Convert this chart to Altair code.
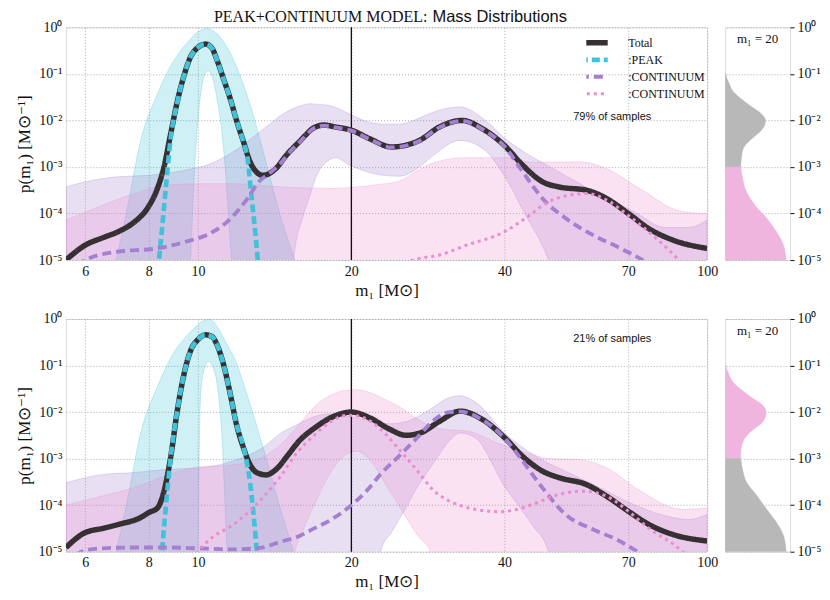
import altair as alt
import pandas as pd

# ------------------------------------------------------------------
# Values (log10 of p(m1) in Msun^-1)
# ------------------------------------------------------------------
X_TICKS = [6, 8, 10, 20, 40, 70, 100]
Y_TICKS = [1e-5, 1e-4, 1e-3, 1e-2, 1e-1, 1.0]
VLINE_M = [20]

# ---------------- top panel (79% of samples) ----------------
TOP_TOTAL_M = [5.5, 6.0, 6.5, 7.0, 7.5, 7.95, 8.32, 8.57, 8.83, 9.1, 9.38, 9.66, 10.0, 10.35, 10.65,
               10.9, 11.22, 11.57, 11.9, 12.28, 12.65, 13.0, 13.4, 14.2, 14.9, 15.8, 17.0, 17.7, 18.6, 20.0,
               21.7, 24.0, 27.2, 29.8, 33.0, 36.2, 40.0, 43.4, 47.5, 51.2, 58.0, 63.5, 70.0, 76.7, 85.6, 100.0]
TOP_TOTAL_LOG = [-5.0, -4.68, -4.52, -4.38, -4.18, -3.89, -3.46, -3.0, -2.3, -1.6, -1.04, -0.64, -0.43, -0.36, -0.45,
                 -0.71, -1.11, -1.54, -2.0, -2.46, -2.89, -3.1, -3.18, -3.04, -2.75, -2.46, -2.14, -2.1, -2.14, -2.21,
                 -2.39, -2.57, -2.43, -2.14, -2.0, -2.18, -2.54, -2.96, -3.32, -3.43, -3.5, -3.68, -4.0, -4.32, -4.57, -4.75]

TOP_PEAK_M = [8.25, 8.38, 8.5, 8.65, 8.83, 9.1, 9.38, 9.66, 10.0, 10.35, 10.65, 10.9, 11.22, 11.57, 11.9,
              12.28, 12.5, 12.75, 12.95, 13.1, 13.3]
TOP_PEAK_LOG = [-6.0, -5.0, -4.3, -3.4, -2.4, -1.62, -1.04, -0.64, -0.43, -0.36, -0.45, -0.71, -1.11, -1.54, -2.0,
                -2.47, -2.8, -3.7, -4.4, -5.0, -6.0]

TOP_CONT1_M = [5.5, 6.0, 6.95, 8.3, 9.5, 10.4, 11.4, 12.5, 13.2, 13.8, 14.5, 15.3, 15.8, 17.0, 17.7,
               18.6, 20.0, 21.7, 24.0, 27.2, 29.8, 33.0, 36.2, 40.0, 43.4, 47.5, 52.7, 59.6, 66.5, 74.7, 85.0]
TOP_CONT1_LOG = [-5.3, -5.0, -4.82, -4.75, -4.6, -4.46, -4.18, -3.68, -3.3, -3.14, -2.93, -2.62, -2.47, -2.15, -2.11,
                 -2.15, -2.22, -2.4, -2.58, -2.44, -2.15, -2.01, -2.19, -2.56, -3.1, -3.68, -4.1, -4.46, -4.71, -5.0, -5.4]

TOP_CONT2_M = [24.0, 26.4, 29.8, 33.7, 40.0, 44.0, 48.8, 54.0, 58.0, 63.5, 70.0, 76.7, 88.0, 95.0]
TOP_CONT2_LOG = [-5.2, -5.0, -4.89, -4.68, -4.39, -4.1, -3.75, -3.6, -3.57, -3.71, -4.04, -4.39, -5.0, -5.4]

TOP_PEAK_BAND_M = [6.9, 7.1, 7.3, 7.7, 8.3, 9.0, 9.4, 9.66, 9.85, 10.05, 10.25, 10.45, 10.65, 10.9, 11.2,
                   11.6, 12.0, 12.6, 13.6, 14.5, 15.5]
TOP_PEAK_BAND_HI = [-5.0, -4.4, -3.75, -2.46, -1.46, -0.68, -0.4, -0.25, -0.15, -0.08, -0.04, -0.03, -0.06, -0.14, -0.3,
                    -0.58, -0.95, -1.6, -2.9, -4.04, -5.0]
TOP_PEAK_BAND_LO = [-7, -7, -7, -7, -7, -7, -7, -5.0, -3.0, -1.7, -1.1, -0.93, -1.05, -1.55, -2.5,
                    -4.8, -7, -7, -7, -7, -7]

TOP_CONT1_BAND_M = [5.5, 6.0, 6.95, 8.0, 9.4, 10.4, 11.7, 13.2, 14.9, 15.4, 16.1, 16.6, 17.0, 18.1, 18.6,
                    20.0, 21.4, 23.1, 24.9, 27.2, 29.0, 32.7, 36.5, 40.0, 44.0, 48.8, 55.0, 61.7, 71.6, 82.8,
                    92.0, 100.0]
TOP_CONT1_BAND_HI = [-3.43, -3.32, -3.21, -3.18, -3.07, -2.96, -2.68, -2.25, -1.82, -1.74, -1.67, -1.64, -1.65, -1.68, -1.72,
                     -1.88, -2.02, -2.08, -2.08, -1.95, -1.82, -1.71, -1.98, -2.38, -2.7, -2.98, -3.3, -3.6, -3.95, -4.3,
                     -4.3, -4.14]
TOP_CONT1_BAND_LO = [-7, -7, -7, -7, -7, -7, -7, -7, -7, -5.0, -4.04, -3.6, -3.25, -2.85, -2.8,
                     -2.98, -3.1, -3.18, -3.2, -3.0, -2.75, -2.43, -2.63, -3.2, -4.04, -5.0, -7, -7, -7, -7,
                     -7, -7]

TOP_CONT2_BAND_M = [5.5, 6.5, 7.5, 8.7, 10.1, 11.7, 14.7, 18.4, 20.0, 22.5, 24.9, 27.2, 29.0, 33.5, 40.0,
                    45.5, 56.2, 63.5, 73.6, 89.5, 100.0]
TOP_CONT2_BAND_HI = [-4.14, -3.82, -3.57, -3.39, -3.36, -3.36, -3.43, -3.46, -3.44, -3.38, -3.3, -3.05, -2.91, -2.8, -2.8,
                     -2.9, -2.89, -3.04, -3.46, -3.96, -4.0]
TOP_CONT2_BAND_LO = [-7] * 21

# ---------------- bottom panel (21% of samples) ----------------
BOT_TOTAL_M = [5.5, 6.0, 6.5, 7.0, 7.7, 8.0, 8.32, 8.57, 8.83, 9.1, 9.38, 9.66, 10.0, 10.35, 10.65,
               10.89, 11.22, 11.57, 11.9, 12.28, 12.65, 13.04, 13.6, 14.27, 15.0, 15.8, 17.0, 18.4, 20.0, 21.7,
               23.8, 25.6, 27.3, 29.8, 32.7, 36.2, 40.0, 43.4, 47.5, 51.2, 58.0, 63.5, 70.0, 76.7, 85.6, 100.0]
BOT_TOTAL_LOG = [-4.91, -4.59, -4.5, -4.41, -4.27, -4.16, -4.06, -3.7, -2.98, -1.98, -1.19, -0.69, -0.44, -0.34, -0.38,
                 -0.55, -0.98, -1.62, -2.27, -2.77, -3.13, -3.3, -3.35, -3.22, -2.93, -2.62, -2.33, -2.1, -2.0, -2.12,
                 -2.37, -2.5, -2.45, -2.2, -1.98, -2.16, -2.55, -2.95, -3.27, -3.41, -3.56, -3.81, -4.13, -4.41, -4.63, -4.77]

BOT_PEAK_M = [8.4, 8.5, 8.65, 8.83, 9.1, 9.38, 9.66, 10.0, 10.35, 10.65, 10.89, 11.22, 11.57, 11.9, 12.28,
              12.5, 12.66, 12.85, 13.05, 13.3]
BOT_PEAK_LOG = [-6.0, -5.0, -4.0, -3.0, -1.98, -1.19, -0.69, -0.44, -0.34, -0.38, -0.55, -0.98, -1.62, -2.27, -2.75,
                -3.15, -3.54, -4.2, -5.0, -6.0]

BOT_CONT1_M = [5.5, 5.9, 6.4, 7.5, 8.7, 10.1, 11.7, 13.2, 14.5, 15.9, 16.9, 18.2, 20.0, 21.4, 22.9,
               24.9, 27.0, 29.0, 31.1, 32.7, 36.2, 40.0, 43.4, 47.5, 52.7, 59.6, 66.5, 73.0, 85.0]
BOT_CONT1_LOG = [-5.3, -5.0, -4.93, -4.91, -4.91, -4.93, -4.95, -4.92, -4.79, -4.65, -4.5, -4.32, -4.0, -3.7, -3.32,
                 -2.93, -2.54, -2.18, -2.0, -1.99, -2.17, -2.56, -3.05, -3.63, -4.2, -4.52, -4.74, -5.0, -5.5]

BOT_CONT2_M = [9.6, 10.0, 10.7, 11.57, 12.47, 13.45, 14.5, 15.6, 16.9, 18.2, 19.6, 20.5, 21.7, 23.0, 24.9,
               27.0, 29.0, 31.0, 33.5, 36.5, 39.0, 42.0, 45.5, 51.2, 57.2, 63.5, 70.0, 76.7, 89.5, 95.0]
BOT_CONT2_LOG = [-5.3, -5.0, -4.68, -4.46, -4.18, -3.82, -3.39, -2.89, -2.5, -2.21, -2.07, -2.08, -2.18, -2.4, -2.82,
                 -3.27, -3.68, -3.9, -4.04, -4.12, -4.14, -4.1, -3.98, -3.77, -3.7, -3.81, -4.13, -4.49, -5.0, -5.3]

BOT_PEAK_BAND_M = [6.9, 7.1, 7.3, 7.7, 8.3, 9.0, 9.4, 9.7, 10.0, 10.05, 10.12, 10.3, 10.5, 10.7, 10.9,
                   11.15, 11.4, 11.7, 12.6, 13.6, 14.5, 15.4]
BOT_PEAK_BAND_HI = [-5.0, -4.4, -3.77, -2.48, -1.48, -0.69, -0.42, -0.26, -0.12, -0.1, -0.07, -0.03, -0.01, -0.05, -0.16,
                    -0.35, -0.55, -0.77, -1.77, -2.98, -4.06, -5.0]
BOT_PEAK_BAND_LO = [-7, -7, -7, -7, -7, -7, -7, -7, -5.0, -3.0, -1.6, -1.05, -0.91, -1.05, -1.4,
                    -2.6, -5.0, -7, -7, -7, -7, -7]

BOT_CONT1_BAND_M = [5.5, 6.5, 7.5, 8.7, 10.1, 11.7, 13.45, 14.5, 15.8, 16.9, 18.2, 20.0, 21.5, 22.8, 24.0,
                    25.3, 27.0, 29.0, 31.0, 32.7, 35.0, 40.0, 45.5, 48.8, 52.7, 61.7, 71.6, 82.8, 92.0, 100.0]
BOT_CONT1_BAND_HI = [-3.52, -3.34, -3.3, -3.23, -3.2, -3.05, -2.75, -2.46, -2.25, -2.1, -2.04, -2.1, -2.18, -2.23, -2.25,
                     -2.22, -2.1, -1.89, -1.7, -1.65, -1.78, -2.45, -2.91, -3.1, -3.27, -3.63, -3.98, -4.23, -4.31, -4.2]
BOT_CONT1_BAND_LO = [-7, -7, -7, -7, -7, -7, -7, -7, -7, -7, -7, -7, -7, -5.0, -4.58,
                     -4.16, -3.6, -3.1, -2.65, -2.45, -2.55, -3.6, -4.45, -5.0, -7, -7, -7, -7, -7, -7]

BOT_CONT2_BAND_M = [5.5, 6.5, 7.5, 8.7, 10.0, 11.57, 13.45, 14.5, 15.5, 16.2, 16.9, 18.2, 19.6, 20.5, 22.0,
                    23.5, 24.9, 27.0, 28.6, 31.0, 33.5, 39.0, 45.0, 49.0, 56.0, 63.5, 73.6, 89.5, 100.0]
BOT_CONT2_BAND_HI = [-4.0, -3.8, -3.62, -3.35, -3.18, -3.14, -2.96, -2.71, -2.37, -2.12, -1.89, -1.64, -1.53, -1.52, -1.6,
                     -1.75, -1.89, -2.15, -2.3, -2.38, -2.4, -2.68, -2.9, -3.0, -3.02, -3.2, -3.68, -4.09, -4.06]
BOT_CONT2_BAND_LO = [-7, -7, -7, -7, -7, -7, -7, -7, -5.0, -4.45, -4.0, -3.3, -2.9, -2.84, -3.1,
                     -3.6, -4.04, -4.65, -5.0, -7, -7, -7, -7, -7, -7, -7, -7, -7, -7]

# ---------------- side panels: density of p(m1 = 20) ----------------
SIDE_TOP_LOGP = [-0.97, -1.07, -1.2, -1.39, -1.55, -1.68, -1.86, -2.0, -2.1, -2.21, -2.43, -2.6, -2.82, -3.0,
                 -3.25, -3.54, -3.82, -4.1, -4.39, -4.68, -5.0]
SIDE_TOP_W = [0.0, 0.02, 0.06, 0.13, 0.26, 0.38, 0.56, 0.62, 0.61, 0.56, 0.38, 0.28, 0.25, 0.24,
              0.27, 0.33, 0.46, 0.64, 0.79, 0.9, 0.94]
SIDE_BOT_LOGP = [-0.97, -1.05, -1.2, -1.37, -1.52, -1.66, -1.87, -2.01, -2.1, -2.19, -2.44, -2.62, -2.87, -3.0,
                 -3.25, -3.51, -3.8, -4.09, -4.37, -4.66, -5.0]
SIDE_BOT_W = [0.0, 0.02, 0.06, 0.13, 0.25, 0.38, 0.59, 0.63, 0.62, 0.59, 0.38, 0.28, 0.24, 0.24,
              0.27, 0.33, 0.49, 0.64, 0.79, 0.9, 0.94]
SIDE_SPLIT_LOGP = -3.0

SERIES = ["total", "peak", "cont1", "cont2"]
SERIES_COLORS = ["#363033", "#41c2d8", "#a381d0", "#ea8ccf"]
SERIES_DASH = [[1, 0], [8, 4], [9, 5], [3, 4]]
SERIES_WIDTH = [5.5, 3, 3, 3.3]
GREY = "#b8b8b8"
PINK_FILL = "#efb5df"

TITLE_LEFT = ["PEAK+CONTINUUM MODEL:"]
TITLE_RIGHT = ["Mass Distributions"]
TOP_NOTE = ["79% of samples"]
BOT_NOTE = ["21% of samples"]
SIDE_LABEL = ["m\u2081 = 20"]

SERIF = "Liberation Serif"
SANS = "Liberation Sans"

W, H = 642, 233
SW = 65

# ------------------------------------------------------------------
def curve(m, logp, s):
    return pd.DataFrame({"m": m, "p": [10.0 ** v for v in logp], "series": s})


def band(m, lo, hi):
    return pd.DataFrame({"m": m, "lo": [10.0 ** v for v in lo], "hi": [10.0 ** v for v in hi]})


X_SCALE = alt.Scale(type="log", domain=[5.5, 100], nice=False)
Y_SCALE = alt.Scale(type="log", domain=[1e-5, 1], nice=False)
Y_LABEL = "'10' + ['\u2070','\u207b\u00b9','\u207b\u00b2','\u207b\u00b3','\u207b\u2074','\u207b\u2075'][round(-log(datum.value)/LN10)]"

X_AXIS = alt.Axis(values=X_TICKS, title="m\u2081 [M\u2299]", labelExpr="datum.value + ''",
                  labelFont=SERIF, labelFontSize=14, labelColor="#111", titleFont=SERIF, titleFontSize=17,
                  titleFontWeight="normal", titleColor="#111", grid=True, gridDash=[1, 2], gridColor="#aaaaaa",
                  ticks=False, labelPadding=4, titleBaseline="middle", titleY=30, domain=False, labelFlush=False)
Y_AXIS = alt.Axis(values=Y_TICKS, title="p(m\u2081) [M\u2299\u207b\u00b9]", labelExpr=Y_LABEL,
                  labelFont=SERIF, labelFontSize=14, labelColor="#111", titleFont=SERIF, titleFontSize=17,
                  titleFontWeight="normal", titleColor="#111", grid=True, gridDash=[1, 2], gridColor="#aaaaaa",
                  ticks=False, labelPadding=4, titlePadding=5, domain=False, labelFlush=False,
                  titleAnchor="middle", titleAlign="center", titleAngle=270, titleBaseline="bottom")
SIDE_AXIS = alt.Axis(values=Y_TICKS, title=None, orient="right", labelExpr=Y_LABEL,
                     labelFont=SERIF, labelFontSize=14, labelColor="#111", grid=True, gridDash=[1, 2],
                     gridColor="#aaaaaa", ticks=True, tickSize=4, tickColor="#111", labelPadding=3,
                     domain=False, labelFlush=False)

LEGEND = alt.Legend(title=None, orient="none", legendX=521, legendY=7, symbolType="M-3.1,0H3.1",
                    symbolSize=81, labelFont=SERIF, labelFontSize=12, labelColor="#111", labelOffset=27,
                    rowPadding=0, clipHeight=17,
                    labelExpr="datum.value == 'total' ? 'Total' : datum.value == 'peak' ? ':PEAK' : ':CONTINUUM'")


def band_layer(df, color):
    return alt.Chart(df).mark_area(color=color, fillOpacity=0.25, stroke=color, strokeOpacity=0.35,
                                   strokeWidth=0.8, clip=True, interpolate="monotone").encode(
        x=alt.X("m:Q", scale=X_SCALE, axis=X_AXIS),
        y=alt.Y("lo:Q", scale=Y_SCALE, axis=Y_AXIS),
        y2="hi:Q",
    )


def line_layer(df, show_legend):
    leg = LEGEND if show_legend else None
    return alt.Chart(df).mark_line(clip=True, interpolate="monotone", strokeCap="butt").encode(
        x=alt.X("m:Q", scale=X_SCALE, axis=X_AXIS),
        y=alt.Y("p:Q", scale=Y_SCALE, axis=Y_AXIS),
        color=alt.Color("series:N", scale=alt.Scale(domain=SERIES, range=SERIES_COLORS), legend=leg),
        strokeDash=alt.StrokeDash("series:N", scale=alt.Scale(domain=SERIES, range=SERIES_DASH), legend=leg),
        strokeWidth=alt.StrokeWidth("series:N", scale=alt.Scale(domain=SERIES, range=SERIES_WIDTH), legend=leg),
    )


def text_layer(values, xpx, ypx, font, size, align="center", style="normal"):
    return alt.Chart(pd.DataFrame({"t": values})).mark_text(
        font=font, fontSize=size, align=align, baseline="middle", color="#111", fontStyle=style
    ).encode(text="t:N", x=alt.value(xpx), y=alt.value(ypx))


def main_panel(bands, curves, note, ypos_note, show_legend, title):
    vline = alt.Chart(pd.DataFrame({"m": VLINE_M})).mark_rule(color="black", strokeWidth=1.2).encode(
        x=alt.X("m:Q", scale=X_SCALE, axis=X_AXIS))
    layers = [band_layer(bands[0], SERIES_COLORS[1]),
              band_layer(bands[1], SERIES_COLORS[2]),
              band_layer(bands[2], SERIES_COLORS[3]),
              vline]
    layers += [line_layer(c, show_legend) for c in curves]
    layers.append(text_layer(note, 547, ypos_note, SANS, 11))
    if title:
        layers.append(text_layer(TITLE_LEFT, 362, -10, SERIF, 16, align="right"))
        layers.append(text_layer(TITLE_RIGHT, 367, -10, SANS, 16.5, align="left"))
    return alt.layer(*layers).properties(width=W, height=H)


def side_panel(logp, widths, upper_color, lower_color):
    up = [(10.0 ** l, w) for l, w in zip(logp, widths) if l >= SIDE_SPLIT_LOGP]
    lo = [(10.0 ** l, w) for l, w in zip(logp, widths) if l <= SIDE_SPLIT_LOGP]
    df_up = pd.DataFrame(up, columns=["p", "w"])
    df_lo = pd.DataFrame(lo, columns=["p", "w"])

    def area(df, color):
        return alt.Chart(df).mark_area(orient="horizontal", color=color, interpolate="monotone",
                                       clip=True, stroke=color, strokeWidth=0.5).encode(
            y=alt.Y("p:Q", scale=Y_SCALE, axis=SIDE_AXIS),
            x=alt.X("w:Q", scale=alt.Scale(domain=[0, 1]), axis=None, stack=None),
        )

    label = text_layer(SIDE_LABEL, SW / 2, 12, SERIF, 13)
    return alt.layer(area(df_up, upper_color), area(df_lo, lower_color), label).properties(width=SW, height=H)


top_main = main_panel(
    [band(TOP_PEAK_BAND_M, TOP_PEAK_BAND_LO, TOP_PEAK_BAND_HI),
     band(TOP_CONT1_BAND_M, TOP_CONT1_BAND_LO, TOP_CONT1_BAND_HI),
     band(TOP_CONT2_BAND_M, TOP_CONT2_BAND_LO, TOP_CONT2_BAND_HI)],
    [curve(TOP_TOTAL_M, TOP_TOTAL_LOG, "total"),
     curve(TOP_PEAK_M, TOP_PEAK_LOG, "peak"),
     curve(TOP_CONT1_M, TOP_CONT1_LOG, "cont1"),
     curve(TOP_CONT2_M, TOP_CONT2_LOG, "cont2")],
    TOP_NOTE, 90, True, True)

bot_main = main_panel(
    [band(BOT_PEAK_BAND_M, BOT_PEAK_BAND_LO, BOT_PEAK_BAND_HI),
     band(BOT_CONT1_BAND_M, BOT_CONT1_BAND_LO, BOT_CONT1_BAND_HI),
     band(BOT_CONT2_BAND_M, BOT_CONT2_BAND_LO, BOT_CONT2_BAND_HI)],
    [curve(BOT_TOTAL_M, BOT_TOTAL_LOG, "total"),
     curve(BOT_PEAK_M, BOT_PEAK_LOG, "peak"),
     curve(BOT_CONT1_M, BOT_CONT1_LOG, "cont1"),
     curve(BOT_CONT2_M, BOT_CONT2_LOG, "cont2")],
    BOT_NOTE, 20, False, False)

top_side = side_panel(SIDE_TOP_LOGP, SIDE_TOP_W, GREY, PINK_FILL)
bot_side = side_panel(SIDE_BOT_LOGP, SIDE_BOT_W, PINK_FILL, GREY)

chart = alt.concat(top_main, top_side, bot_main, bot_side, columns=2,
                   spacing={"row": 59, "column": 18}, bounds="flush").resolve_scale(
    color="independent", strokeDash="independent", strokeWidth="independent"
).properties(
    padding={"left": 6, "top": 0, "right": 0, "bottom": 4}
).configure_view(
    stroke="#111", strokeWidth=1
).configure(background="white")

chart.save("out.html", embed_options={"renderer": "svg", "actions": False})
